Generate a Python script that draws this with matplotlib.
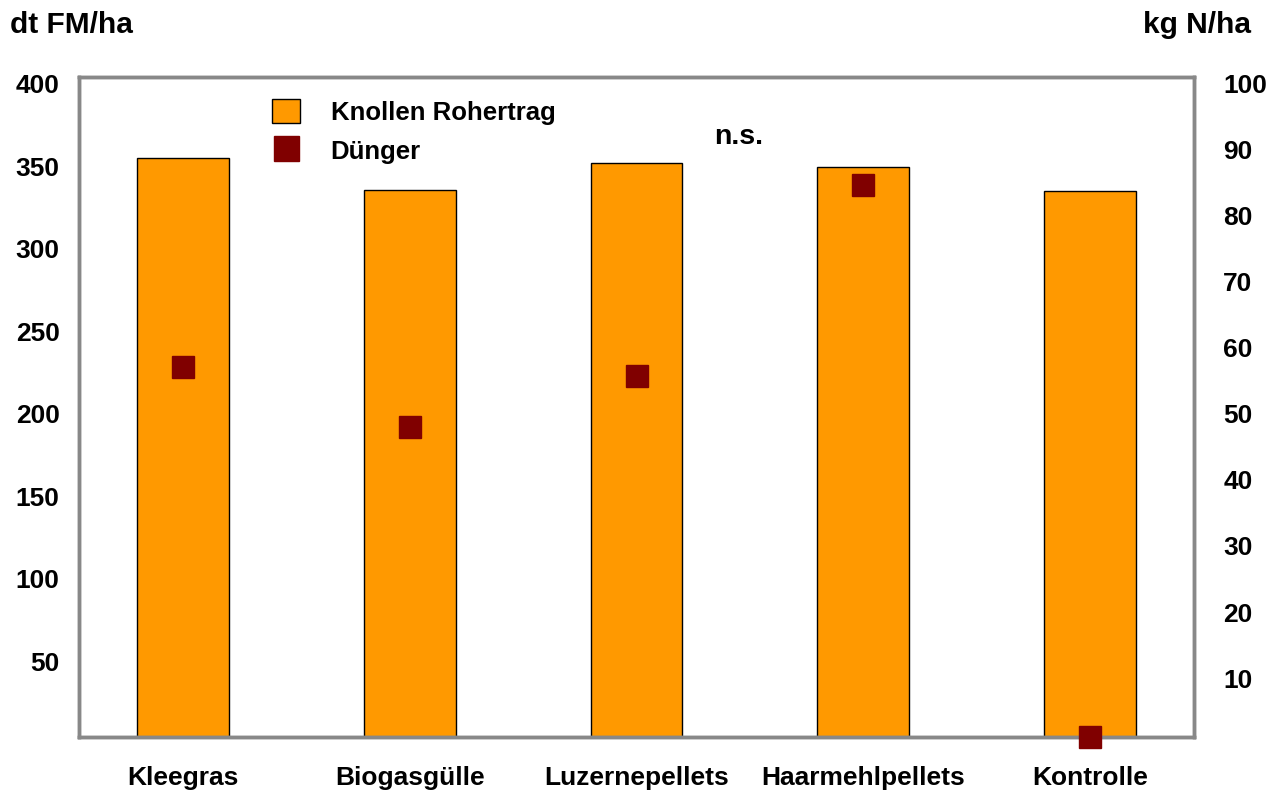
import numpy as np
import matplotlib.pyplot as plt
from matplotlib.patches import Patch
from matplotlib.lines import Line2D
from matplotlib.transforms import ScaledTranslation

plt.rcParams['font.family'] = ['Liberation Sans', 'DejaVu Sans']
plt.rcParams['font.weight'] = 'bold'

# Daten
sorten = ['Kleegras', 'Biogasgülle', 'Luzernepellets', 'Haarmehlpellets', 'Kontrolle']
ertrag = [351, 331.5, 348, 345.5, 331]      # dt FM/ha
duenger = [56, 47, 54.7, 83.6, 0]           # kg N/ha
yticks_l = [50, 100, 150, 200, 250, 300, 350, 400]
yticks_r = [10, 20, 30, 40, 50, 60, 70, 80, 90, 100]

orange = '#FF9900'
dunkelrot = '#800000'
grau = '#888888'

fig = plt.figure(figsize=(12.74, 7.94), dpi=100)
ax = fig.add_axes([79/1274, 1-737/794, (1194-79)/1274, (737-77)/794])
ax2 = ax.twinx()

x = np.arange(len(sorten))
ax.bar(x, ertrag, width=0.405, color=orange, edgecolor='black', linewidth=1.0, zorder=2)
ax2.plot(x, duenger, ls='none', marker='s', ms=16, color=dunkelrot, clip_on=False, zorder=3)

ax.set_xlim(-0.458, 4.458)
ax.set_ylim(0, 400)
ax2.set_ylim(0, 100)

ax.set_xticks(x)
ax.set_xticklabels(sorten, fontsize=19, fontweight='bold')
ax.set_yticks(yticks_l)
ax.set_yticklabels([str(v) for v in yticks_l], fontsize=19, fontweight='bold')
ax2.set_yticks(yticks_r)
ax2.set_yticklabels([str(v) for v in yticks_r], fontsize=19, fontweight='bold')

ax.tick_params(axis='x', length=0, pad=21)
ax.tick_params(axis='y', length=0, pad=14)
ax2.tick_params(axis='y', length=0, pad=21)

# labels in the original sit a few pixels below their gridpositions
off = ScaledTranslation(0, -7/100, fig.dpi_scale_trans)
for lbl in ax.get_yticklabels() + ax2.get_yticklabels():
    lbl.set_transform(lbl.get_transform() + off)

for a in (ax, ax2):
    for s in a.spines.values():
        s.set_color(grau)
        s.set_linewidth(2.5)
ax2.patch.set_visible(False)

fig.text(10/1274, 1-25/794, 'dt FM/ha', fontsize=21.5, fontweight='bold', ha='left', va='center')
fig.text(1251/1274, 1-25/794, 'kg N/ha', fontsize=21.5, fontweight='bold', ha='right', va='center')
fig.text(739/1274, 1-137/794, 'n.s.', fontsize=20.5, fontweight='bold', ha='center', va='center')

handles = [Patch(facecolor=orange, edgecolor='black', linewidth=1.0),
           Line2D([], [], ls='none', marker='s', ms=18, color=dunkelrot)]
fig.legend(handles, ['Knollen Rohertrag', 'Dünger'], loc='upper left',
           bbox_to_anchor=(272/1274, 1-99/794), frameon=False,
           prop={'size': 18.5, 'weight': 'bold'}, handlelength=1.08, handleheight=1.08,
           handletextpad=1.2, labelspacing=0.5, borderaxespad=0, borderpad=0)

fig.savefig('out.png', dpi=100)
